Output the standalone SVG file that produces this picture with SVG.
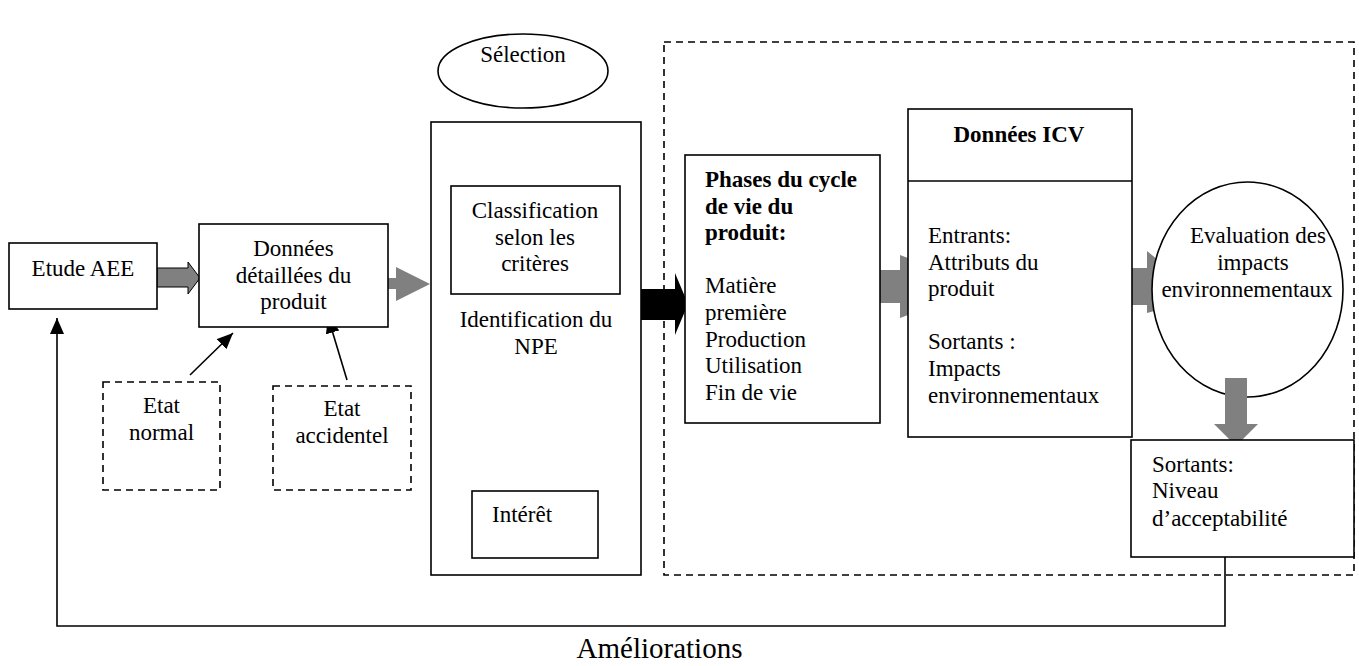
<svg xmlns="http://www.w3.org/2000/svg" width="1359" height="666" viewBox="0 0 1359 666">
<defs>
<style>
.box{fill:#fff;stroke:#000;stroke-width:1.6}
.dash{fill:none;stroke:#000;stroke-width:1.6;stroke-dasharray:7 5}
.dashw{fill:#fff;stroke:#000;stroke-width:1.6;stroke-dasharray:7 5}
.t{font-family:"Liberation Serif","Times New Roman",serif;font-size:23px;fill:#000}
.c{text-anchor:middle}
.b{font-weight:bold}
.line{fill:none;stroke:#000;stroke-width:1.6}
.gray{fill:#808080}
</style>
<marker id="ahl" viewBox="0 0 16 14" refX="16" refY="7" markerWidth="16" markerHeight="14" markerUnits="userSpaceOnUse" orient="auto">
<path d="M0,0 L16,7 L0,14 z" fill="#000"/>
</marker>
</defs>
<rect width="1359" height="666" fill="#fff"/>

<g id="scope">
<rect class="dash" x="664" y="42" width="690" height="533"/>
</g>

<g id="connectors">
<polygon class="gray" points="157,268 188,268 188,262 200,278 188,294 188,287 157,287" stroke="#000" stroke-width="1"/>
<polygon class="gray" points="388,278 396,278 396,267 430,284 396,301 396,289 388,289"/>
<polygon fill="#000" points="641,289 675,289 675,273 688,304 675,335 675,320 641,320"/>
<polygon class="gray" points="880,270 900,270 900,255 908,258 908,315 900,318 900,303 880,303"/>
<polygon class="gray" points="1132,268 1147,268 1147,251 1158,260 1158,310 1147,313 1147,305 1132,305"/>
<line class="line" x1="190" y1="375" x2="233" y2="333" marker-end="url(#ahl)"/>
<line class="line" x1="347" y1="380" x2="328" y2="317" marker-end="url(#ahl)"/>
<polyline class="line" points="1225,557 1225,626 57,626 57,318" marker-end="url(#ahl)"/>
<text class="t" x="659.5" y="658" style="font-size:29px" text-anchor="middle">Améliorations</text>
</g>

<g id="etude-aee">
<rect class="box" x="9" y="243" width="148" height="66"/>
<text class="t c" x="83" y="276">Etude AEE</text>
</g>

<g id="donnees-detaillees">
<rect class="box" x="199" y="224" width="189" height="103"/>
<text class="t c" x="293.5" y="256">Données</text>
<text class="t c" x="293.5" y="283">détaillées du</text>
<text class="t c" x="293.5" y="309">produit</text>
</g>

<g id="etat-normal">
<rect class="dashw" x="103" y="382" width="117" height="108"/>
<text class="t c" x="161.5" y="413">Etat</text>
<text class="t c" x="161.5" y="440">normal</text>
</g>

<g id="etat-accidentel">
<rect class="dashw" x="273" y="386" width="138" height="104"/>
<text class="t c" x="342" y="416">Etat</text>
<text class="t c" x="342" y="443">accidentel</text>
</g>

<g id="selection">
<ellipse class="box" cx="523" cy="71" rx="85" ry="37"/>
<text class="t c" x="523" y="62">Sélection</text>
</g>

<g id="identification">
<rect class="box" x="431" y="122" width="210" height="453"/>
<text class="t c" x="536" y="327">Identification du</text>
<text class="t c" x="536" y="354">NPE</text>
</g>

<g id="classification">
<rect class="box" x="451" y="186" width="169" height="108"/>
<text class="t c" x="535" y="218">Classification</text>
<text class="t c" x="535" y="245">selon les</text>
<text class="t c" x="535" y="271">critères</text>
</g>

<g id="interet">
<rect class="box" x="472" y="491" width="126" height="67"/>
<text class="t" x="492" y="522">Intérêt</text>
</g>

<g id="phases">
<rect class="box" x="685" y="155" width="195" height="268"/>
<text class="t b" x="705" y="187">Phases du cycle</text>
<text class="t b" x="705" y="213.5">de vie du</text>
<text class="t b" x="705" y="240">produit:</text>
<text class="t" x="705" y="293">Matière</text>
<text class="t" x="705" y="320">première</text>
<text class="t" x="705" y="346.5">Production</text>
<text class="t" x="705" y="373">Utilisation</text>
<text class="t" x="705" y="399.5">Fin de vie</text>
</g>

<g id="donnees-icv">
<rect class="box" x="908" y="109" width="224" height="328"/>
<line class="line" x1="908" y1="181" x2="1132" y2="181"/>
<text class="t b c" x="1019" y="142">Données ICV</text>
<text class="t" x="928" y="243">Entrants:</text>
<text class="t" x="928" y="269.6">Attributs du</text>
<text class="t" x="928" y="296.2">produit</text>
<text class="t" x="928" y="349.4">Sortants :</text>
<text class="t" x="928" y="376">Impacts</text>
<text class="t" x="928" y="402.6">environnementaux</text>
</g>

<g id="evaluation">
<ellipse class="box" cx="1247.5" cy="289.5" rx="95.5" ry="107.5"/>
<text class="t c" x="1258" y="243">Evaluation des</text>
<text class="t c" x="1253" y="270">impacts</text>
<text class="t c" x="1247" y="297">environnementaux</text>
</g>

<g id="connector-down">
<polygon class="gray" points="1225,378 1247,378 1247,424 1258,424 1236,446 1214,424 1225,424"/>
</g>

<g id="sortants">
<rect class="box" x="1131" y="440" width="223" height="117"/>
<text class="t" x="1152" y="472">Sortants:</text>
<text class="t" x="1152" y="498">Niveau</text>
<text class="t" x="1152" y="526">d’acceptabilité</text>
</g>
</svg>
